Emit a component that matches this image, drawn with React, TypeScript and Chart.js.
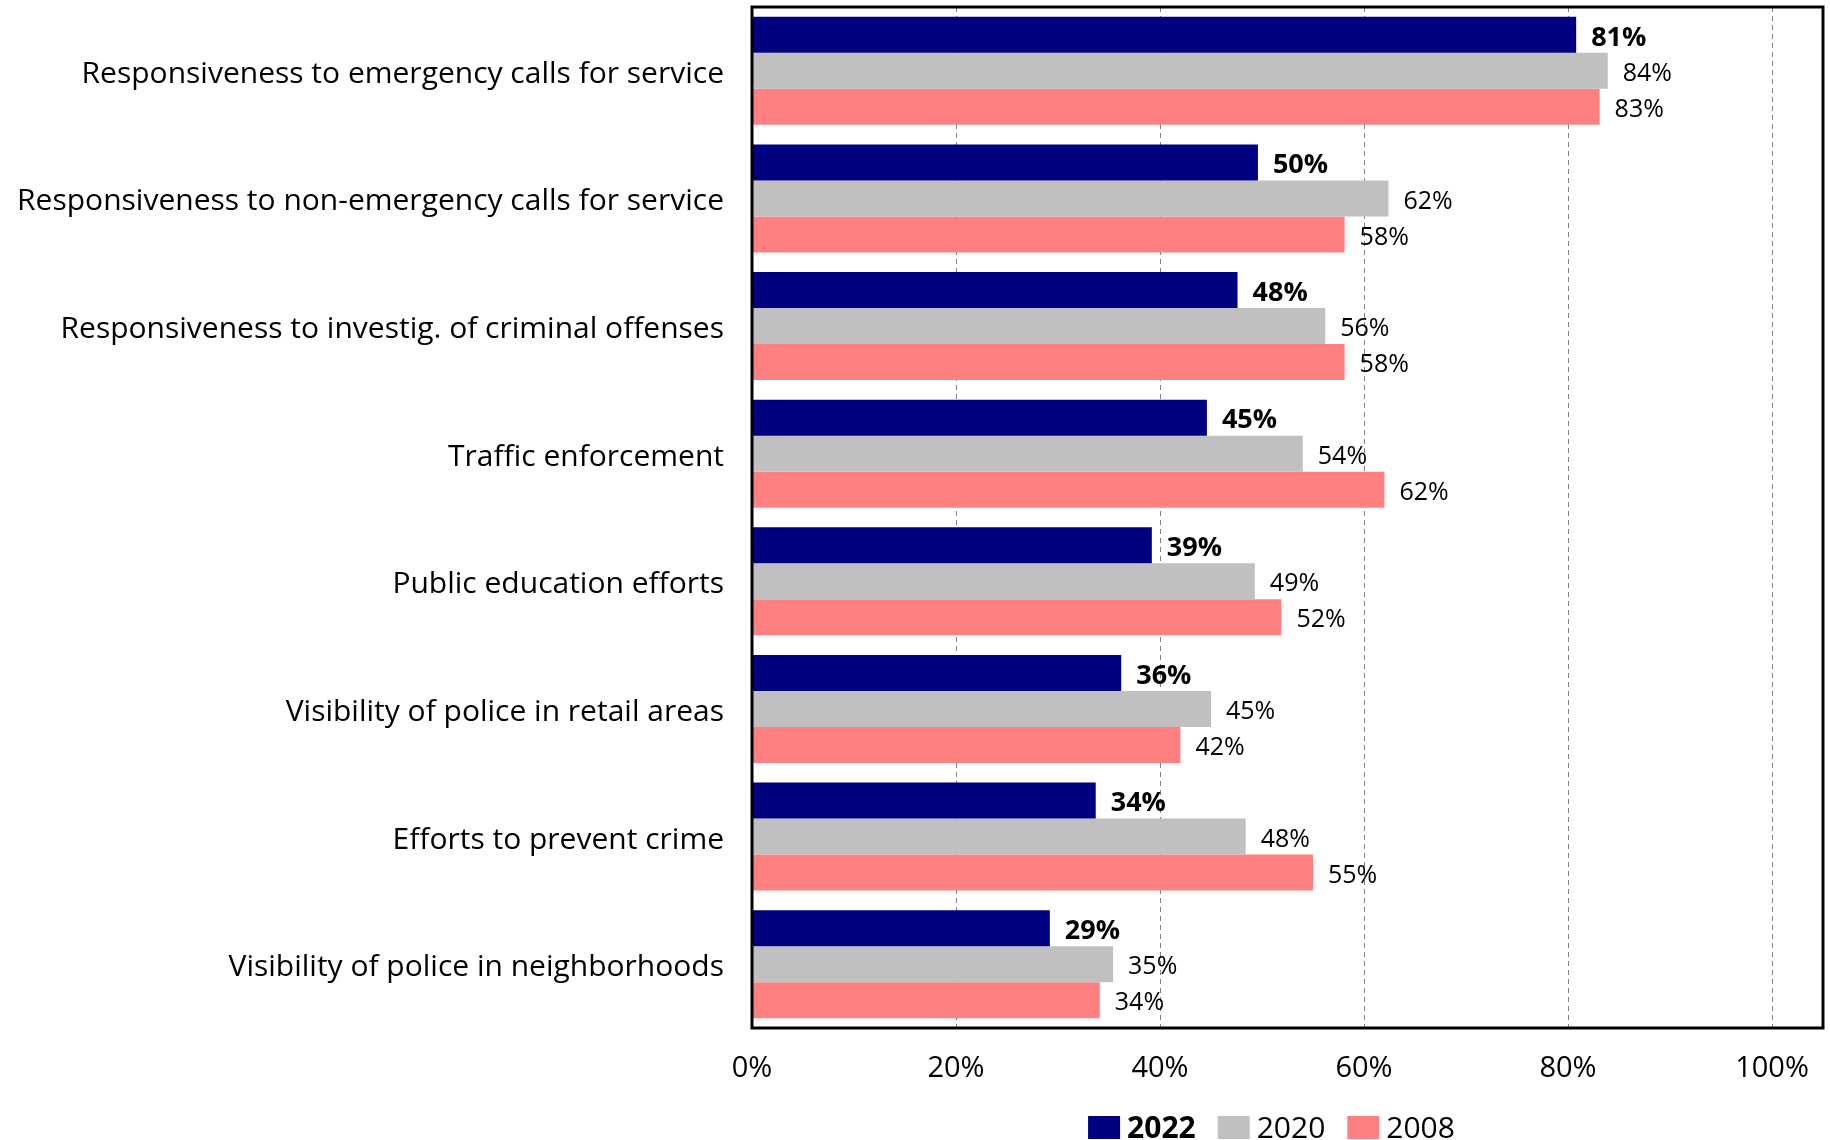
import React, { useEffect, useRef } from 'react';
import { Chart, registerables } from 'chart.js';

Chart.register(...registerables);

const categories = [
  'Responsiveness to emergency calls for service',
  'Responsiveness to non-emergency calls for service',
  'Responsiveness to investig. of criminal offenses',
  'Traffic enforcement',
  'Public education efforts',
  'Visibility of police in retail areas',
  'Efforts to prevent crime',
  'Visibility of police in neighborhoods',
];

const seriesNames = ['2022', '2020', '2008'];
const values2022 = [80.8, 49.6, 47.6, 44.6, 39.2, 36.2, 33.7, 29.2];
const values2020 = [83.9, 62.4, 56.2, 54.0, 49.3, 45.0, 48.4, 35.4];
const values2008 = [83.1, 58.1, 58.1, 62.0, 51.9, 42.0, 55.0, 34.1];
const seriesColors = ['#000080', '#C0C0C0', '#FF8080'];
const xTickValues = [0, 20, 40, 60, 80, 100];
const xMax = 105;

const FONT = "'Open Sans', 'Noto Sans', sans-serif";

const framePlugin = {
  id: 'frame',
  afterDatasetsDraw(chart: any) {
    const { ctx, chartArea: a } = chart;
    ctx.save();
    ctx.lineWidth = 3;
    ctx.strokeStyle = '#000';
    ctx.strokeRect(a.left, a.top, a.right - a.left, a.bottom - a.top);
    ctx.restore();
  },
};

const valueLabelPlugin = {
  id: 'valueLabels',
  afterDatasetsDraw(chart: any) {
    const { ctx } = chart;
    ctx.save();
    ctx.fillStyle = '#000';
    ctx.textAlign = 'left';
    ctx.textBaseline = 'middle';
    chart.data.datasets.forEach((ds: any, i: number) => {
      const meta = chart.getDatasetMeta(i);
      ctx.font = i === 0 ? `bold 27px ${FONT}` : `25px ${FONT}`;
      meta.data.forEach((bar: any, j: number) => {
        const v = ds.data[j];
        ctx.fillText(`${Math.round(v)}%`, bar.x + 15, bar.y + 3);
      });
    });
    ctx.restore();
  },
};

const legendPlugin = {
  id: 'customLegend',
  afterDraw(chart: any) {
    const { ctx } = chart;
    ctx.save();
    const boxW = 32;
    const boxH = 23;
    const gapText = 7;
    const gapItem = 22;
    const items = chart.data.datasets.map((ds: any, i: number) => {
      ctx.font = `${i === 0 ? 'bold ' : ''}30px ${FONT}`;
      return { label: ds.label, color: ds.backgroundColor, bold: i === 0, w: ctx.measureText(ds.label).width };
    });
    const total = items.reduce((s: number, it: any, i: number) => s + boxW + gapText + it.w + (i < items.length - 1 ? gapItem : 0), 0);
    let x = 1271.5 - total / 2;
    const boxTop = 1116;
    const baseline = 1138;
    items.forEach((it: any) => {
      ctx.fillStyle = it.color;
      ctx.fillRect(x, boxTop, boxW, boxH);
      x += boxW + gapText;
      ctx.font = `${it.bold ? 'bold ' : ''}30px ${FONT}`;
      ctx.fillStyle = '#000';
      ctx.textAlign = 'left';
      ctx.textBaseline = 'alphabetic';
      ctx.fillText(it.label, x, baseline);
      x += it.w + gapItem;
    });
    ctx.restore();
  },
};

export default function App() {
  const canvasRef = useRef<HTMLCanvasElement | null>(null);

  useEffect(() => {
    document.body.style.margin = '0';
    const canvas = canvasRef.current;
    if (!canvas) return;
    Chart.defaults.font.family = FONT;
    Chart.defaults.color = '#000';
    const seriesValues = [values2022, values2020, values2008];
    const chart = new Chart(canvas, {
      type: 'bar',
      data: {
        labels: categories,
        datasets: seriesNames.map((name, i) => ({
          label: name,
          data: seriesValues[i],
          backgroundColor: seriesColors[i],
          borderWidth: 0,
          categoryPercentage: 0.846,
          barPercentage: 1,
        })),
      },
      options: {
        indexAxis: 'y',
        responsive: false,
        animation: false,
        layout: { padding: { left: 0, right: 7, top: 7, bottom: 0 } },
        plugins: {
          legend: { display: false },
          tooltip: { enabled: false },
          title: { display: false },
        },
        scales: {
          x: {
            type: 'linear',
            position: 'bottom',
            min: 0,
            max: xMax,
            afterBuildTicks: (s: any) => {
              s.ticks = xTickValues.map((v) => ({ value: v }));
            },
            afterFit: (s: any) => {
              s.height = 112;
              s.paddingLeft = 0;
              s.paddingRight = 0;
            },
            ticks: {
              callback: (v: any) => `${v}%`,
              font: { size: 29 },
              color: '#000',
              padding: 23,
              maxRotation: 0,
              autoSkip: false,
            },
            grid: {
              color: (c: any) => (c.tick && c.tick.value === 0 ? 'rgba(0,0,0,0)' : '#808080'),
              lineWidth: 1,
              drawTicks: false,
            },
            border: { display: false, dash: [5, 4] },
          },
          y: {
            type: 'category',
            position: 'left',
            afterFit: (s: any) => {
              s.width = 752;
              s.paddingTop = 0;
              s.paddingBottom = 0;
            },
            ticks: {
              font: { size: 30 },
              color: '#000',
              padding: 28,
              labelOffset: 3.5,
              autoSkip: false,
            },
            grid: { display: false, drawTicks: false },
            border: { display: false },
          },
        },
      },
      plugins: [valueLabelPlugin, framePlugin, legendPlugin],
    } as any);
    return () => chart.destroy();
  }, []);

  return (
    <div style={{ width: 1830, height: 1140 }}>
      <canvas ref={canvasRef} width={1830} height={1140} style={{ display: 'block', width: 1830, height: 1140 }} />
    </div>
  );
}
